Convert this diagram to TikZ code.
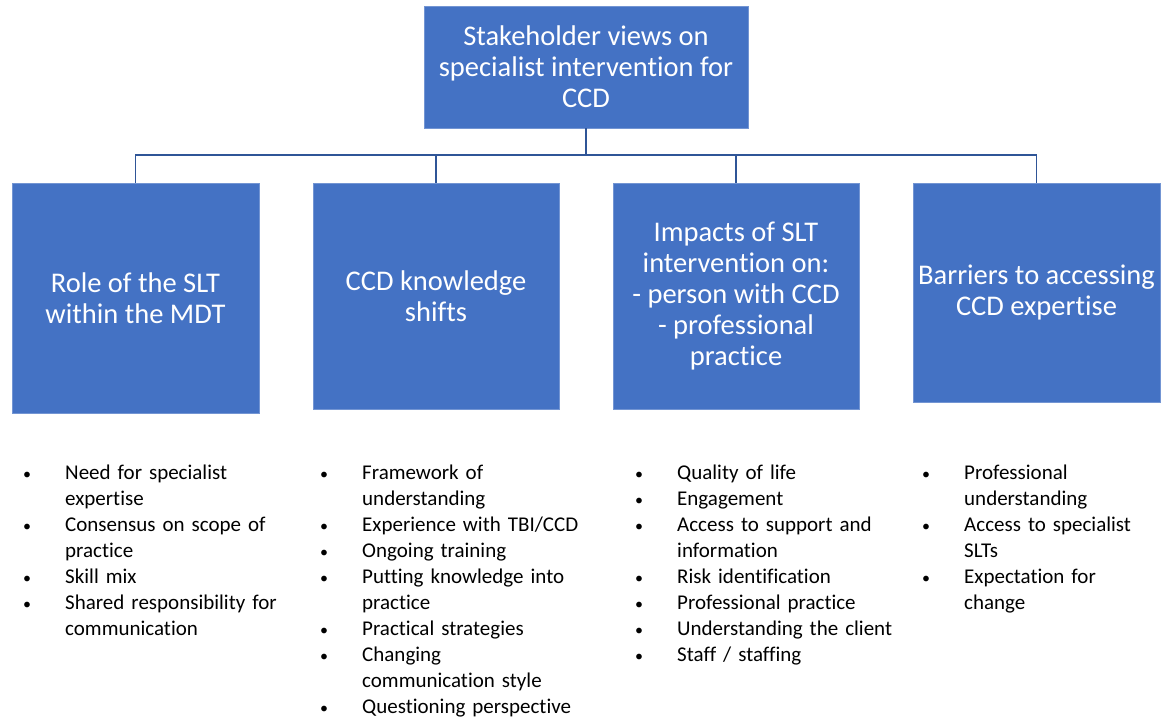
\documentclass[tikz,border=0pt]{standalone}
\usepackage{fontspec}
\setmainfont{Carlito}[Ligatures=NoCommon]
\usepackage{xcolor}
\usepackage{tikz}
\usetikzlibrary{positioning, calc}
\definecolor{boxblue}{HTML}{4472C4}
\definecolor{linkblue}{HTML}{2F5597}
\newcommand{\itm}[1]{\par\noindent\hangindent=38pt\hangafter=1\makebox[38pt][l]{\makebox[0pt][c]{\fontsize{16}{16}\selectfont\textbullet}}\strut#1\par}

\begin{document}
\begin{tikzpicture}[x=1pt, y=-1pt,
    topic/.style={fill=boxblue, draw=boxblue!75!white, line width=0.6pt, text=white, align=center, inner sep=0pt,
      font=\fontsize{28.5}{31}\selectfont},
    items/.style={anchor=north west, inner sep=0pt, text width=290pt,
      font=\fontsize{21}{26}\selectfont},
    link/.style={linkblue, line width=1.6pt}]
      \useasboundingbox (0,0) rectangle (1162,718);

      \node[topic, minimum width=324pt, minimum height=122pt] (views) at (586,67) {Stakeholder views on\\specialist intervention for\\CCD};

      \node[topic, minimum width=247pt, minimum height=230pt] (role) at (135.5,298) {Role of the SLT\\within the MDT};
      \node[topic, minimum width=246pt, minimum height=226pt] (shifts) at (436,296) {CCD knowledge\\shifts};
      \node[topic, minimum width=246pt, minimum height=226pt] (impacts) at (736,296) {Impacts of SLT\\intervention on:\\- person with CCD\\- professional\\practice};
      \node[topic, minimum width=247pt, minimum height=219pt] (barriers) at (1036.5,292.5) {Barriers to accessing\\CCD expertise};

      \coordinate (bus) at (586,155);
      \draw[link] (views.south) -- (views.south |- bus);
      \foreach \b in {role, shifts, impacts, barriers}
        \draw[link] (views.south |- bus) -| (\b.north);

      % bullet lists under each theme
      \node[items] (roleitems) at (27,453) {\raggedright
        \itm{Need for specialist\newline expertise}
        \itm{Consensus on scope of\newline practice}
        \itm{Skill mix}
        \itm{Shared responsibility for\newline communication}};
      \node[items] (shiftitems) at (324,453) {\raggedright
        \itm{Framework of\newline understanding}
        \itm{Experience with TBI/CCD}
        \itm{Ongoing training}
        \itm{Putting knowledge into\newline practice}
        \itm{Practical strategies}
        \itm{Changing\newline communication style}
        \itm{Questioning perspective}};
      \node[items] (impactitems) at (639,453) {\raggedright
        \itm{Quality of life}
        \itm{Engagement}
        \itm{Access to support and\newline information}
        \itm{Risk identification}
        \itm{Professional practice}
        \itm{Understanding the client}
        \itm{Staff / staffing}};
      \node[items] (barrieritems) at (926,453) {\raggedright
        \itm{Professional\newline understanding}
        \itm{Access to specialist\newline SLTs}
        \itm{Expectation for\newline change}};
\end{tikzpicture}
\end{document}
